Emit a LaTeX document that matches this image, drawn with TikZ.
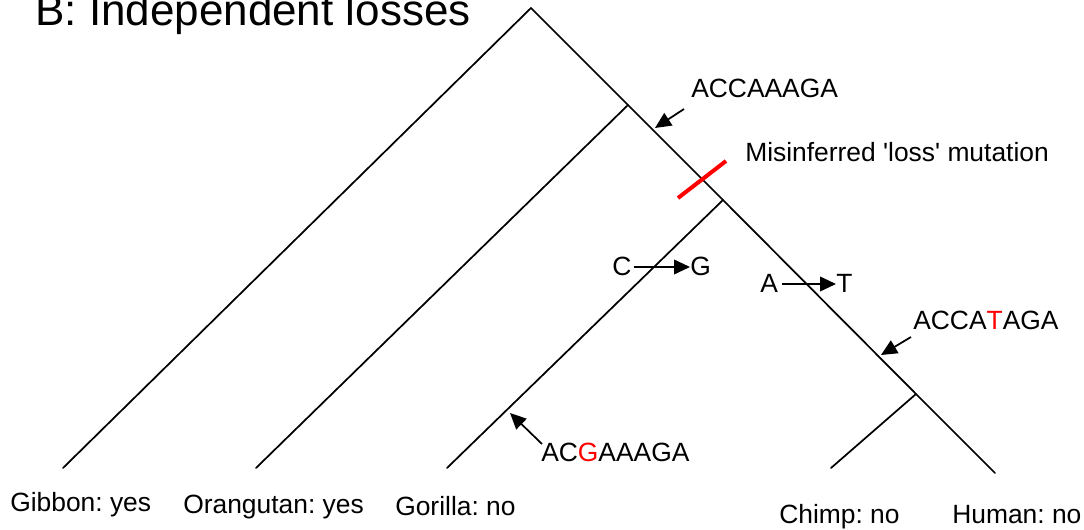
\documentclass[tikz,border=0pt]{standalone}
\usepackage{fontspec}
\setmainfont{Liberation Sans}
\usetikzlibrary{arrows.meta}
\frenchspacing
\begin{document}
\begin{tikzpicture}[x=0.75pt,y=-0.75pt,
  branch/.style={line width=1.3pt,line cap=round},
  lbl/.style={inner sep=0pt,anchor=base west,font=\fontsize{19.8}{24}\selectfont},
  ttl/.style={inner sep=0pt,anchor=base west,font=\fontsize{33}{40}\selectfont},
  pointer/.style={line width=1.3pt,-{Triangle[length=12pt,width=11pt]}},
  tick/.style={red,line width=3pt}]
\useasboundingbox (0,0) rectangle (1084,530);
% tree points
\coordinate (root) at (531,8);
\coordinate (jO) at (628,105);
\coordinate (jG) at (723,200);
\coordinate (jC) at (916,394);
\coordinate (gib) at (63,468);
\coordinate (ora) at (256,468);
\coordinate (gor) at (447,468);
\coordinate (chi) at (831,468);
\coordinate (hum) at (995,473);
% branches
\draw[branch] (gib) -- (root) -- (jO) -- (jG) -- (jC) -- (hum);
\draw[branch] (jO) -- (ora);
\draw[branch] (jG) -- (gor);
\draw[branch] (jC) -- (chi);
% red tick
\coordinate (r1) at (678,198);
\coordinate (r2) at (726,161);
\draw[tick] (r1) -- (r2);
% title
\node[ttl] (title) at (35,26) {B: Independent losses};
% leaf labels
\node[lbl] (lgib) at (10,511) {Gibbon: yes};
\node[lbl] (lora) at (183,513) {Orangutan: yes};
\node[lbl] (lgor) at (395,515) {Gorilla: no};
\node[lbl] (lchi) at (779,523) {Chimp: no};
\node[lbl] (lhum) at (952,523) {Human: no};
% sequences
\node[lbl] (s1) at (691,98) {ACCAAAGA};
\coordinate (s1a) at (684,109);
\coordinate (s1b) at (655,128);
\draw[pointer] (s1a) -- (s1b);
\node[lbl] (mis) at (745,162) {Misinferred \textquotesingle loss\textquotesingle{} mutation};
\node[lbl] (s2) at (913,330) {ACCA\textcolor{red}{T}AGA};
\coordinate (s2a) at (911,337);
\coordinate (s2b) at (881,355);
\draw[pointer] (s2a) -- (s2b);
\node[lbl] (s3) at (541,461) {AC\textcolor{red}{G}AAAGA};
\coordinate (s3a) at (542,444);
\coordinate (s3b) at (510,413);
\draw[pointer] (s3a) -- (s3b);
% substitutions
\node[lbl] (c) at (612,276) {C};
\node[lbl] (g) at (690,276) {G};
\draw[pointer] (c.east |- 0,267) ++(2,0) coordinate (cg) -- (g.west |- 0,267);
\node[lbl] (a) at (760,293) {A};
\node[lbl] (t) at (836,293) {T};
\draw[pointer] (a.east |- 0,284) ++(4,0) coordinate (at) -- (t.west |- 0,284);
\end{tikzpicture}
\end{document}
